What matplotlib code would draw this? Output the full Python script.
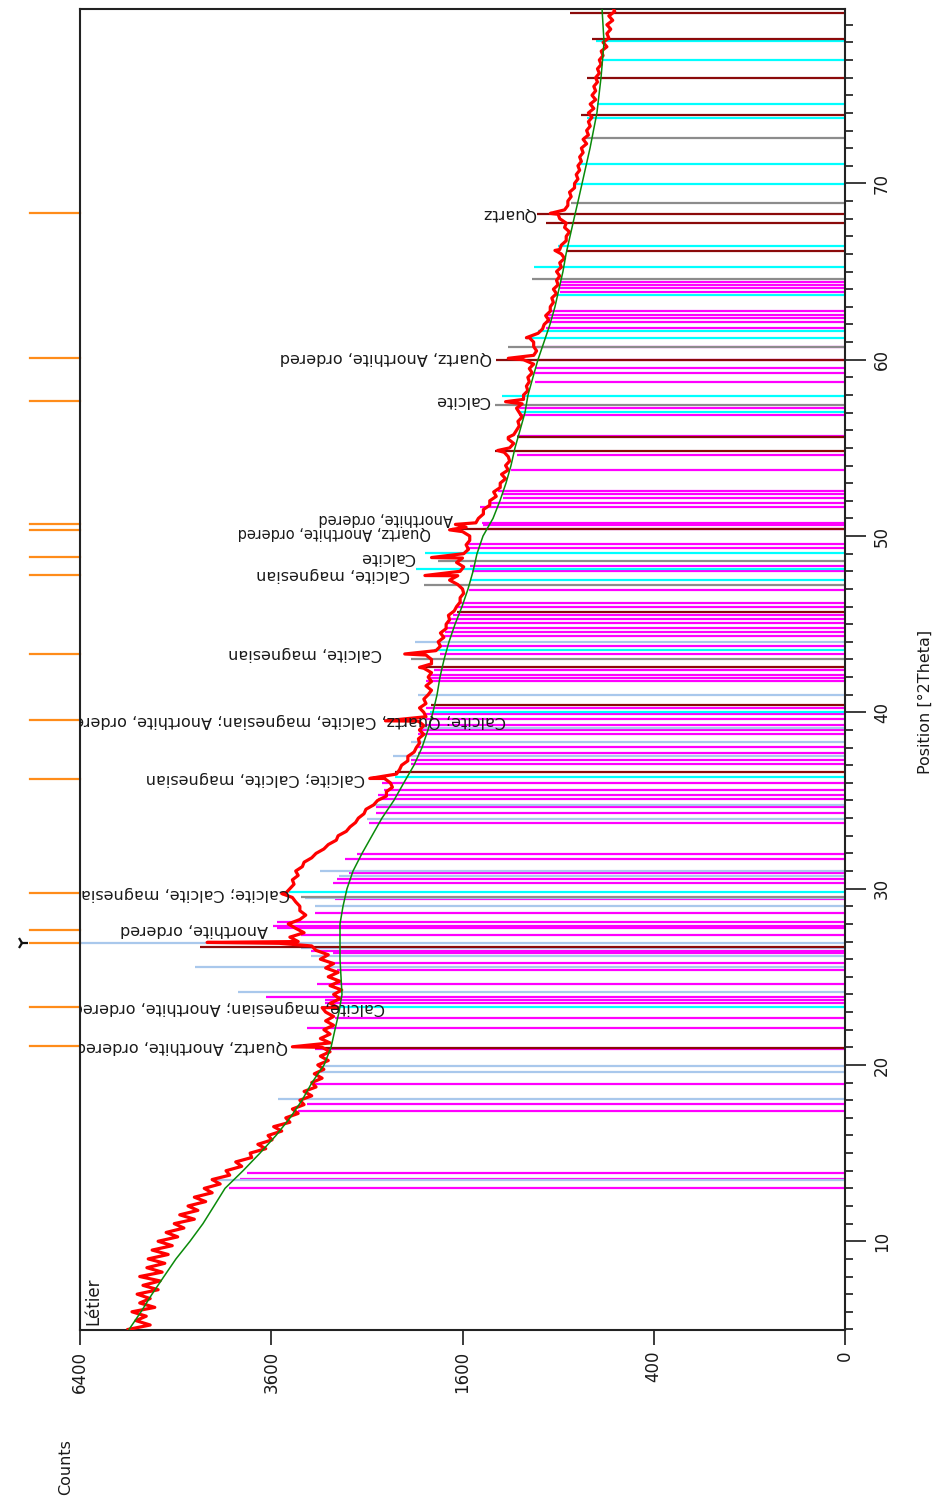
import numpy as np
import matplotlib
matplotlib.use("Agg")
from matplotlib import pyplot as plt
from matplotlib.ticker import FixedLocator, NullLocator
from matplotlib.transforms import blended_transform_factory

plt.rcParams['font.family'] = ['DejaVu Sans']

# measured scan: counts every 0.25 deg from 5 to 80 deg 2theta
scan_start = 5.0
scan_step = 0.25
scan_counts = [
    5620, 5280, 5500, 5340,  5560, 5210, 5440, 5280,  5480, 5160, 5390, 5130,
    5440, 5100, 5330, 5060,  5310, 5010, 5250, 4950,  5160, 4870, 5040, 4780,
    4920, 4630, 4840, 4580,  4720, 4470, 4630, 4380,  4490, 4270, 4380, 4140,
    4190, 3980, 4060, 3850,  3870, 3670, 3770, 3590,  3640, 3470, 3570, 3370,
    3420, 3270, 3340, 3200,  3250, 3110, 3200, 3060,  3110, 2990, 3080, 2970,
    3040, 2920, 3010, 2900,  2990, 2900, 3010, 2900,  2970, 2860, 2950, 2860,
    2950, 2810, 2900, 2790,  2860, 2770, 2900, 2790,  2920, 2810, 2950, 2860,
    3010, 2920, 3060, 3110,  3270, 3370, 3200, 3300,  3390, 3250, 3180, 3250,
    3250, 3300, 3340, 3420,  3370, 3320, 3340, 3270,  3300, 3220, 3200, 3110,
    3060, 2970, 2920, 2830,  2810, 2720, 2680, 2620,  2590, 2530, 2510, 2430,
    2390, 2300, 2300, 2240,  2260, 2320, 2200, 2170,  2150, 2090, 2090, 2030,
    2010, 1980, 1990, 1940,  1980, 1940, 1990, 1920,  1940, 1980, 1920, 1940,
    1900, 1870, 1920, 1870,  1900, 1870, 1940, 1870,  1870, 1920, 1830, 1790,
    1810, 1760, 1790, 1740,  1740, 1710, 1720, 1670,  1650, 1620, 1620, 1590,
    1600, 1640, 1710, 1640,  1620, 1590, 1650, 1600,  1590, 1550, 1570, 1540,
    1540, 1600, 1570, 1490,  1470, 1430, 1430, 1380,  1380, 1330, 1350, 1300,
    1300, 1260, 1290, 1240,  1260, 1230, 1240, 1270,  1230, 1200, 1240, 1200,
    1180, 1160, 1170, 1140,  1160, 1180, 1140, 1130,  1130, 1100, 1110, 1090,
    1100, 1070, 1090, 1060,  1130, 1060, 1040, 1060,  1060, 1090, 1030, 1000,
    990, 960, 980, 950,      950, 930, 940, 910,      930, 900, 910, 890,
    910, 880, 890, 860,      880, 890, 880, 850,      850, 830, 860, 850,
    890, 900, 860, 840,      840, 820, 830, 800,      800, 780, 790, 770,
    780, 760, 770, 750,      760, 730, 750, 720,      730, 710, 720, 700,
    720, 690, 710, 680,      700, 680, 690, 670,      680, 660, 670, 650,
    660, 640, 650, 620,      640, 610, 620, 600,      620, 590, 610, 580,
    590,
]

# sharp reflections between the scan steps
peak_2theta = [21.03, 23.25, 26.90, 26.95, 29.72, 36.25, 39.52, 42.55, 43.31,
               47.76, 48.78, 50.35, 50.66, 54.85, 55.60, 57.62, 60.08, 61.25,
               66.20, 68.30]
peak_counts = [3340, 2990, 3500, 4450, 3470, 2470, 2310, 1980, 2120,
               1930, 1870, 1710, 1660, 1320, 1240, 1260, 1240, 1110,
               920, 950]

# fitted background
bg_2theta = [5, 6, 7, 8, 9, 10, 11, 12, 13, 14, 15, 16, 17, 18, 19, 20, 21, 22,
             23, 24, 25, 26, 27, 28, 29, 30, 31, 32, 33, 34, 35, 36, 37, 38, 39,
             40, 41, 42, 43, 44, 45, 46, 47, 48, 49, 50, 51, 52, 53, 54, 55, 56,
             57, 58, 59, 60, 61, 62, 63, 64, 65, 66, 67, 68, 69, 70, 72, 74, 76,
             78, 80]
bg_counts = [5606, 5420, 5252, 5073, 4895, 4692, 4508, 4354, 4204, 3963, 3743,
             3541, 3368, 3224, 3107, 2968, 2889, 2845, 2800, 2767, 2778, 2789,
             2789, 2789, 2756, 2712, 2647, 2551, 2447, 2345, 2226, 2129, 2032,
             1957, 1902, 1857, 1820, 1794, 1758, 1715, 1663, 1604, 1554, 1513,
             1481, 1433, 1355, 1302, 1257, 1220, 1191, 1155, 1120, 1099, 1065,
             1031, 991, 952, 920, 895, 870, 851, 827, 803, 779, 756, 711, 673,
             651, 635, 646]

# reference patterns (stick positions and heights)
anorthite_2theta = [13.00, 13.53, 13.85, 17.39, 17.77, 18.94, 20.92, 22.08, 22.68,
                    23.53, 23.68, 23.87, 24.57, 25.38, 25.76, 26.33, 26.48, 27.37,
                    27.75, 27.88, 28.09, 28.60, 29.39, 30.33, 30.53, 30.90, 31.70,
                    31.95, 33.70, 34.27, 34.61, 35.10, 35.30, 35.60, 36.00, 37.07,
                    37.29, 37.71, 38.05, 38.77, 39.00, 39.28, 39.60, 39.90, 40.23,
                    41.79, 41.93, 42.12, 42.40, 43.29, 43.76, 44.33, 44.57, 44.76,
                    45.05, 45.27, 45.52, 45.99, 46.22, 46.94, 48.03, 48.30, 49.30,
                    49.55, 50.38, 50.62, 50.75, 51.63, 51.85, 52.14, 52.38, 52.57,
                    53.74, 54.58, 55.65, 56.86, 57.24, 58.75, 59.23, 59.51, 59.98,
                    60.74, 61.78, 62.16, 62.35, 62.54, 62.78, 63.86, 64.05, 64.24,
                    64.39]
anorthite_counts = [4150, 4000, 3910, 3270, 3160, 3100, 3070, 3160, 2840,
                    2960, 2960, 3670, 3050, 2820, 2910, 2870, 3120, 3240,
                    3530, 3580, 3530, 3070, 2840, 2870, 2820, 2690, 2730,
                    2600, 2480, 2410, 2410, 2390, 2390, 2320, 2340, 2060,
                    2060, 1990, 1990, 1990, 1990, 1920, 1920, 1920, 1920,
                    1920, 1900, 1880, 1850, 1790, 1800, 1770, 1750, 1730,
                    1720, 1700, 1680, 1650, 1630, 1550, 1520, 1540, 1570,
                    1570, 1420, 1430, 1440, 1460, 1380, 1280, 1290, 1320,
                    1220, 1180, 1180, 1160, 1160, 1050, 1050, 1050, 1040,
                    1040, 980, 980, 980, 980, 950, 890, 890, 890,
                    890]

calcite_2theta = [23.30, 29.79, 36.31, 40.03, 43.53, 47.50, 48.11, 49.02, 57.05,
                  57.94, 61.25, 61.65, 63.67, 65.27, 66.45, 69.97, 71.08, 73.69,
                  74.49, 77.00, 78.09]
calcite_counts = [3000, 3380, 2210, 1880, 1850, 1540, 2010, 1930, 1160,
                  1290, 1120, 1030, 920, 1060, 900, 800, 770, 730,
                  670, 640, 680]

mg_calcite_2theta = [13.45, 18.07, 19.58, 19.95, 24.15, 25.57, 26.18, 26.61, 26.92,
                     29.01, 29.45, 30.71, 30.98, 33.93, 34.74, 37.52, 38.33, 39.09,
                     40.98, 44.00]
mg_calcite_counts = [4400, 3520, 3000, 2980, 4030, 4620, 3120, 3240, 6400,
                     3070, 3190, 2800, 3010, 2500, 2440, 2230, 2060, 1980,
                     1990, 2020]

quartz_2theta = [20.94, 26.70, 36.60, 40.41, 42.55, 45.71, 50.38, 54.84, 55.60,
                 59.98, 66.18, 67.77, 68.26, 73.88, 75.96, 78.19, 79.68]
quartz_counts = [3070, 4550, 2210, 1870, 1960, 1650, 1690, 1340, 1180,
                 1330, 850, 980, 1040, 760, 730, 700, 830]

other_2theta = [29.54, 43.02, 47.22, 48.60, 57.45, 60.74, 64.56, 68.87, 72.59]
other_counts = [3240, 2060, 1940, 1810, 1340, 1240, 1070, 820, 750]

# identified peaks: marker position, label text and where the label ends
marker_2theta = [68.32, 60.10, 57.66, 50.68, 50.34, 48.81, 47.79, 43.31, 39.56,
                 36.22, 29.75, 27.68, 23.28, 21.05, 26.93]
label_2theta = [68.32, 60.10, 57.66, 51.02, 50.22, 48.81, 47.79, 43.31, 39.56,
                36.22, 29.75, 27.68, 23.28, 21.05]
label_text = ["Quartz", "Quartz, Anorthite, ordered", "Calcite",
              "Anorthite, ordered", "Quartz, Anorthite, ordered", "Calcite",
              "Calcite, magnesian", "Calcite, magnesian",
              "Calcite; Quartz, Calcite, magnesian; Anorthite, ordered",
              "Calcite; Calcite, magnesian", "Calcite; Calcite, magnesian",
              "Anorthite, ordered", "Calcite, magnesian; Anorthite, ordered",
              "Quartz, Anorthite, ordered"]
label_at = [1040, 1360, 1380, 1680, 1870, 2020, 2070, 2340, 1260,
            2520, 3370, 3640, 2310, 3390]
label_size = [11.5, 11.5, 11.5, 10.5, 10.5, 11.5, 11.5, 11.5, 11.5,
              11.5, 11.5, 11.5, 11.5, 11.5]

count_ticks = [0, 400, 1600, 3600, 6400]

fig = plt.figure(figsize=(9.37, 14.96), dpi=100)
ax = fig.add_axes([0.0854, 0.1110, 0.8164, 0.8833])
ax.set_xscale('function', functions=(lambda v: np.sqrt(np.clip(v, 0, None)), np.square))
ax.set_xlim(6400, 0)
ax.set_ylim(4.97, 79.92)

stick_sets = [
    (anorthite_2theta, anorthite_counts, '#ff00ff'),
    (mg_calcite_2theta, mg_calcite_counts, '#a9c8ec'),
    (calcite_2theta, calcite_counts, '#00ffff'),
    (other_2theta, other_counts, '#8c8c8c'),
    (quartz_2theta, quartz_counts, '#8b0a0a'),
]
for tt, cc, col in stick_sets:
    ax.hlines(tt, 0, cc, color=col, lw=1.6, zorder=2)

scan_2theta = scan_start + scan_step * np.arange(len(scan_counts))
all_tt = np.concatenate([scan_2theta, peak_2theta])
all_cc = np.concatenate([scan_counts, peak_counts])
order = np.argsort(all_tt)
ax.plot(all_cc[order], all_tt[order], color='#ff0000', lw=2.3, zorder=3)
ax.plot(bg_counts, bg_2theta, color='#0a8a0a', lw=1.1, zorder=4)

for tt, txt, at, fs in zip(label_2theta, label_text, label_at, label_size):
    ax.text(at, tt, txt, rotation=180, ha='right', va='center', fontsize=fs,
            color='#1a1a1a', clip_on=True, zorder=5)

# peak markers outside the frame
side = blended_transform_factory(ax.transAxes, ax.transData)
for tt in marker_2theta:
    ax.plot([-0.0654, 0], [tt, tt], color='#ff8c1a', lw=1.6, transform=side,
            clip_on=False)
ax.plot([-0.076], [26.93], marker='4', color='#111111', ms=9, mew=1.6,
        transform=side, clip_on=False)

ax.text(0.006, 0.004, 'Létier', rotation=90, ha='left', va='bottom',
        fontsize=12, color='#1a1a1a', transform=ax.transAxes)

ax.xaxis.set_major_locator(FixedLocator(count_ticks))
ax.xaxis.set_minor_locator(NullLocator())
ax.set_xticklabels([str(v) for v in count_ticks])
ax.tick_params(axis='x', which='major', direction='out', length=11, width=1.2,
               pad=4, labelsize=12, labelrotation=90, colors='#1a1a1a')

ax.yaxis.tick_right()
ax.yaxis.set_major_locator(FixedLocator(range(10, 71, 10)))
ax.yaxis.set_minor_locator(FixedLocator(range(5, 80)))
ax.tick_params(axis='y', which='major', direction='out', length=15, width=1.2,
               pad=5, labelsize=12, labelrotation=90, colors='#1a1a1a')
ax.tick_params(axis='y', which='minor', direction='out', length=6, width=1.2,
               colors='#1a1a1a')
for lbl in ax.get_yticklabels():
    lbl.set_va('center')

for sp in ax.spines.values():
    sp.set_linewidth(1.5)
    sp.set_color('#222222')

fig.text(925 / 937, 1 - 702 / 1496, 'Position [°2Theta]', rotation=90,
         ha='center', va='center', fontsize=11.5, color='#1a1a1a')
fig.text(66 / 937, 1 - 1467 / 1496, 'Counts', rotation=90, ha='center',
         va='center', fontsize=11.5, color='#1a1a1a')

fig.savefig('out.png', dpi=100)
